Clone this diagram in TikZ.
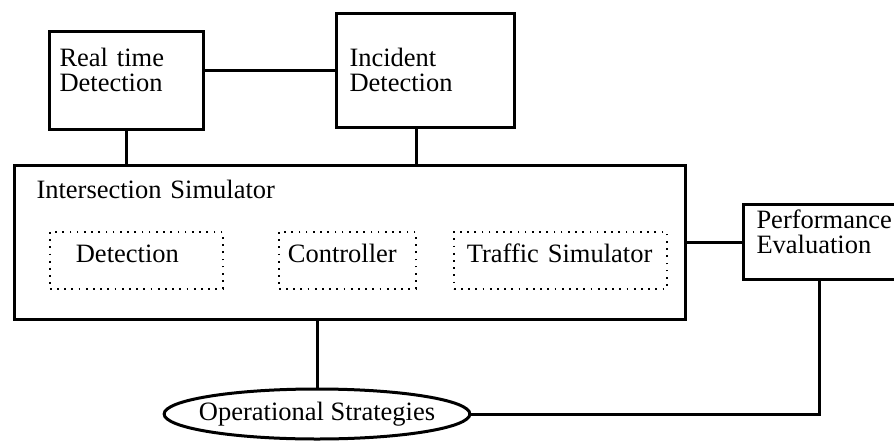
\documentclass[tikz,border=0pt]{standalone}
\usepackage{fontspec}
\setmainfont{Liberation Serif}
\usepackage{tikz}
\usetikzlibrary{shapes.geometric}
\tikzset{
    block/.style={draw, line width=3pt, anchor=north west, inner ysep=0pt, align=left},
    subblock/.style={draw, line width=1.7pt, dash pattern=on 1.7pt off 5.5pt, anchor=north west, inner ysep=0pt, align=left},
    link/.style={line width=3pt}
}

\begin{document}
\begin{tikzpicture}[x=1pt, y=-1pt, font=\fontsize{26.5}{25}\selectfont]
\useasboundingbox (0,0) rectangle (894,442);

\node[block, inner xsep=10pt, text width=134pt, text height=35pt, text depth=63pt] (rt) at (48,30) {Real time\\Detection};
\node[block, inner xsep=13pt, text width=152pt, text height=53pt, text depth=61pt] (inc) at (335,12) {Incident\\Detection};
\node[block, inner xsep=22pt, text width=627pt, text height=33pt, text depth=121pt] (sim) at (13,164) {Intersection Simulator};

\begin{scope}[every node/.style={subblock, text height=31pt, text depth=26pt}]
    \node[inner xsep=26pt, text width=121pt] (det) at (49,231) {Detection};
    \node[inner xsep=9pt, text width=119pt] (ctl) at (278,231) {Controller};
    \node[inner xsep=13pt, text width=187pt] (tsim) at (453,231) {Traffic Simulator};
\end{scope}

\node[block, inner xsep=13pt, text width=140pt, text height=24pt, text depth=51pt] (perf) at (742,203) {Performance\\Evaluation};
\node[ellipse, draw, line width=3pt, inner xsep=-10pt, inner ysep=3pt, minimum height=50pt] (ops) at (317,414) {Operational Strategies};

\draw[link] (inc.west) -- (inc.west -| rt.east);
\draw[link] (rt.south) -- (rt.south |- sim.north);
\draw[link] ([xshift=-9pt]inc.south) -- ([xshift=-9pt]inc.south |- sim.north);
\draw[link] (sim.east) -- (sim.east -| perf.west);
\draw[link] (ops.north) -- (ops.north |- sim.south);
\draw[link] ([xshift=-7pt]perf.south) |- (ops.east);

\end{tikzpicture}
\end{document}
